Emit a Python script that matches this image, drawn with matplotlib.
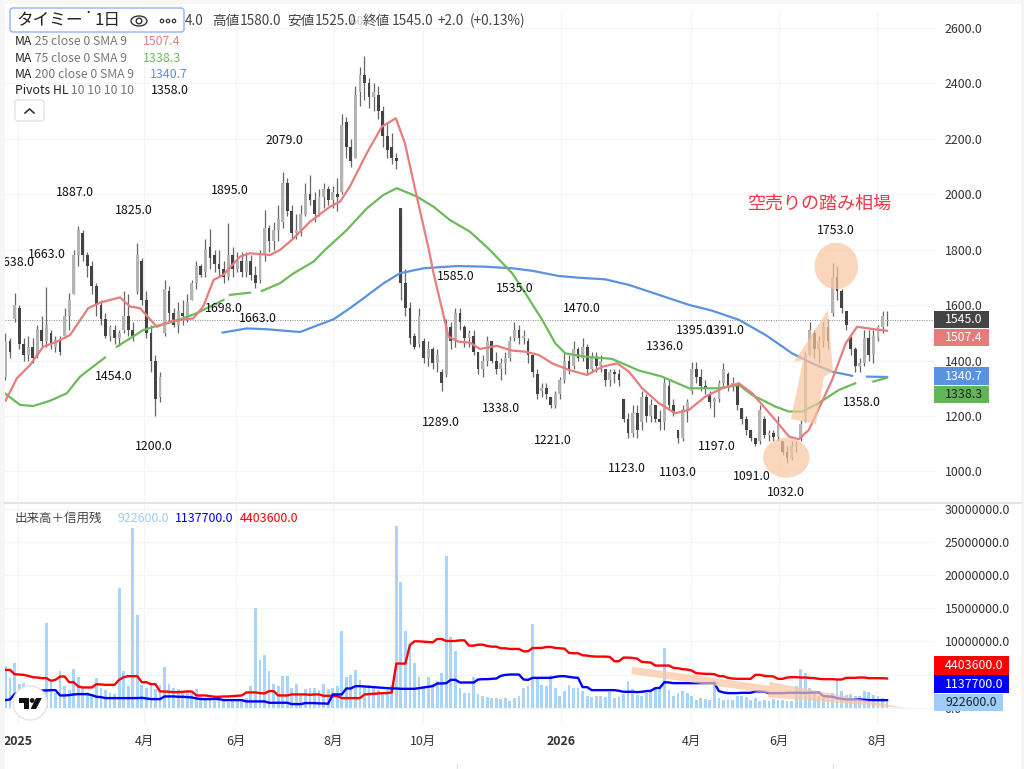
import matplotlib
matplotlib.use('Agg')
import matplotlib.pyplot as plt
from matplotlib.patches import Ellipse, Polygon, Rectangle, FancyBboxPatch, Circle
import numpy as np

plt.rcParams['font.family'] = ['Noto Sans CJK JP', 'DejaVu Sans']

# every candle covers two trading days
opens = [1340, 1470, 1550, 1590, 1460, 1420, 1450, 1420, 1510, 1470,
         1500, 1450, 1470, 1490, 1560, 1640, 1780, 1860, 1780, 1740,
         1670, 1600, 1550, 1490, 1510, 1480, 1510, 1560, 1510, 1650,
         1760, 1620, 1500, 1400, 1270, 1500, 1650, 1570, 1530, 1570,
         1560, 1620, 1680, 1740, 1720, 1810, 1780, 1750, 1730, 1700,
         1780, 1730, 1760, 1720, 1760, 1710, 1690, 1780, 1880, 1830,
         1870, 1900, 2040, 1940, 1860, 1870, 1930, 2000, 1980, 1930,
         1990, 2020, 1980, 2000, 2010, 2260, 2170, 2130, 2370, 2430,
         2400, 2350, 2360, 2300, 2210, 2170, 2130, 1950, 1680, 1590,
         1490, 1460, 1470, 1410, 1440, 1390, 1360, 1350, 1520, 1470,
         1570, 1520, 1480, 1490, 1430, 1370, 1400, 1470, 1400, 1370,
         1390, 1410, 1480, 1510, 1480, 1470, 1420, 1350, 1290, 1300,
         1270, 1240, 1280, 1330, 1400, 1380, 1440, 1410, 1450, 1370,
         1410, 1380, 1370, 1330, 1360, 1350, 1260, 1190, 1140, 1210,
         1180, 1270, 1200, 1240, 1190, 1180, 1310, 1240, 1150, 1120,
         1220, 1290, 1370, 1340, 1310, 1280, 1250, 1260, 1320, 1350,
         1310, 1310, 1230, 1190, 1150, 1120, 1110, 1190, 1130, 1140,
         1125, 1110, 1070, 1050, 1090, 1120, 1180, 1420, 1500, 1440,
         1470, 1520, 1570, 1700, 1650, 1580, 1480, 1440, 1380, 1390,
         1480, 1420, 1480, 1520, 1544]
highs = [1500, 1480, 1645, 1600, 1480, 1490, 1480, 1530, 1560, 1665,
         1510, 1490, 1490, 1590, 1645, 1800, 1887, 1870, 1790, 1760,
         1680, 1620, 1570, 1530, 1530, 1510, 1650, 1640, 1540, 1825,
         1770, 1650, 1530, 1420, 1360, 1690, 1670, 1590, 1610, 1620,
         1640, 1690, 1760, 1750, 1840, 1875, 1800, 1800, 1760, 1895,
         1810, 1790, 1790, 1790, 1780, 1740, 1800, 1943, 1890, 1900,
         1960, 2079, 2060, 1960, 1930, 1960, 2040, 2070, 2010, 2020,
         2040, 2030, 2030, 2060, 2290, 2280, 2200, 2390, 2460, 2500,
         2420, 2400, 2390, 2320, 2260, 2220, 2150, 1950, 1730, 1610,
         1500, 1590, 1480, 1470, 1450, 1440, 1370, 1550, 1540, 1590,
         1590, 1530, 1510, 1510, 1430, 1420, 1490, 1470, 1430, 1410,
         1430, 1490, 1540, 1530, 1510, 1480, 1420, 1370, 1320, 1320,
         1270, 1290, 1340, 1430, 1420, 1470, 1450, 1480, 1460, 1430,
         1430, 1420, 1370, 1370, 1370, 1370, 1260, 1210, 1240, 1240,
         1290, 1280, 1260, 1240, 1220, 1340, 1330, 1260, 1150, 1240,
         1260, 1395, 1395, 1370, 1330, 1290, 1270, 1330, 1391, 1360,
         1340, 1320, 1230, 1200, 1150, 1120, 1240, 1200, 1150, 1150,
         1200, 1110, 1090, 1110, 1110, 1185, 1430, 1540, 1510, 1490,
         1540, 1550, 1753, 1740, 1660, 1580, 1490, 1450, 1410, 1510,
         1510, 1510, 1530, 1580, 1580]
lows = [1330, 1410, 1540, 1440, 1400, 1400, 1390, 1410, 1450, 1450,
        1440, 1430, 1420, 1480, 1510, 1640, 1740, 1760, 1700, 1640,
        1560, 1530, 1480, 1470, 1460, 1454, 1500, 1490, 1470, 1640,
        1600, 1480, 1360, 1200, 1250, 1490, 1540, 1520, 1500, 1530,
        1540, 1620, 1660, 1700, 1700, 1730, 1720, 1700, 1680, 1690,
        1700, 1720, 1700, 1700, 1690, 1663, 1680, 1760, 1790, 1800,
        1830, 1880, 1920, 1840, 1840, 1850, 1920, 1960, 1900, 1920,
        1950, 1960, 1950, 1940, 2000, 2130, 2100, 2130, 2320, 2340,
        2310, 2300, 2270, 2170, 2130, 2110, 2090, 1620, 1560, 1460,
        1440, 1450, 1390, 1380, 1370, 1360, 1289, 1340, 1440, 1450,
        1510, 1450, 1450, 1420, 1350, 1340, 1380, 1390, 1350, 1330,
        1350, 1400, 1470, 1460, 1460, 1390, 1340, 1260, 1270, 1260,
        1229, 1230, 1260, 1320, 1350, 1370, 1400, 1400, 1350, 1360,
        1360, 1360, 1310, 1310, 1320, 1310, 1180, 1120, 1123, 1120,
        1150, 1180, 1180, 1180, 1150, 1150, 1220, 1200, 1103, 1110,
        1180, 1280, 1320, 1290, 1280, 1230, 1197, 1250, 1310, 1290,
        1290, 1220, 1170, 1130, 1110, 1091, 1100, 1120, 1110, 1110,
        1110, 1060, 1032, 1040, 1070, 1110, 1180, 1420, 1410, 1390,
        1450, 1440, 1560, 1620, 1570, 1510, 1420, 1360, 1358, 1380,
        1400, 1390, 1470, 1500, 1525]
closes = [1470, 1430, 1600, 1460, 1420, 1450, 1410, 1510, 1470, 1530,
          1460, 1475, 1430, 1560, 1620, 1780, 1870, 1780, 1740, 1670,
          1600, 1550, 1490, 1520, 1480, 1500, 1560, 1510, 1490, 1780,
          1620, 1500, 1400, 1260, 1340, 1660, 1570, 1530, 1580, 1560,
          1610, 1680, 1740, 1710, 1800, 1770, 1750, 1730, 1700, 1780,
          1730, 1760, 1720, 1760, 1710, 1680, 1780, 1880, 1830, 1870,
          1910, 2040, 1940, 1860, 1870, 1930, 2000, 1980, 1930, 1990,
          2020, 1980, 2010, 1990, 2250, 2170, 2120, 2360, 2430, 2400,
          2350, 2370, 2300, 2210, 2160, 2130, 2120, 1680, 1590, 1480,
          1450, 1560, 1410, 1440, 1390, 1420, 1320, 1520, 1470, 1570,
          1540, 1480, 1500, 1430, 1370, 1400, 1470, 1400, 1370, 1390,
          1410, 1470, 1510, 1480, 1490, 1420, 1360, 1280, 1300, 1280,
          1240, 1280, 1330, 1400, 1370, 1440, 1410, 1450, 1370, 1410,
          1380, 1400, 1330, 1360, 1350, 1330, 1190, 1140, 1210, 1150,
          1270, 1200, 1240, 1190, 1180, 1320, 1240, 1210, 1120, 1220,
          1250, 1370, 1340, 1310, 1300, 1250, 1260, 1320, 1370, 1310,
          1320, 1240, 1190, 1150, 1120, 1100, 1220, 1130, 1140, 1125,
          1180, 1070, 1050, 1090, 1100, 1170, 1420, 1510, 1440, 1470,
          1520, 1470, 1700, 1650, 1590, 1530, 1440, 1380, 1390, 1480,
          1420, 1490, 1520, 1560, 1545]

# volume and margin balances in millions of shares
volume = [6.3, 4.5, 6.7, 3.5, 3.7, 2.8, 2.5, 2.8, 2.4, 12.7,
          3.8, 2.2, 5.5, 3.2, 2.6, 5.9, 4.6, 3.0, 2.4, 2.0,
          4.5, 2.9, 2.6, 2.2, 2.0, 18.1, 5.5, 3.2, 27.0, 14.0,
          3.4, 3.0, 3.6, 2.8, 3.4, 6.2, 3.6, 3.0, 2.8, 2.4,
          2.6, 2.2, 2.8, 1.8, 1.4, 1.1, 1.0, 1.1, 1.0, 0.9,
          1.2, 1.2, 1.3, 1.5, 3.2, 15.0, 7.2, 8.0, 5.5, 3.6,
          3.2, 4.8, 4.8, 3.0, 3.5, 2.2, 2.8, 3.0, 3.0, 2.6,
          3.6, 2.8, 3.0, 3.2, 11.6, 4.6, 5.0, 5.7, 4.2, 3.4,
          3.4, 3.0, 2.6, 2.2, 2.6, 3.4, 27.3, 19.0, 11.5, 9.7,
          6.7, 4.6, 3.2, 4.6, 3.6, 4.0, 5.2, 22.9, 10.7, 8.6,
          3.0, 2.2, 2.2, 4.7, 2.0, 1.8, 1.6, 1.5, 1.4, 1.3,
          1.4, 1.0, 1.4, 1.8, 3.0, 3.3, 12.6, 4.5, 3.4, 3.2,
          5.0, 3.0, 1.8, 2.5, 3.4, 3.0, 3.0, 2.5, 1.7, 1.6,
          1.7, 1.7, 1.6, 2.4, 1.5, 1.6, 2.0, 4.0, 2.8, 1.9,
          1.7, 2.2, 2.4, 2.8, 3.0, 9.0, 2.6, 1.7, 2.2, 2.5,
          2.2, 1.8, 1.2, 1.4, 1.3, 1.2, 4.0, 1.4, 1.2, 1.3,
          1.2, 1.8, 1.7, 1.6, 1.2, 1.4, 1.0, 1.2, 1.0, 1.3,
          1.2, 1.2, 1.0, 1.0, 3.2, 5.9, 5.2, 3.0, 2.2, 1.8,
          1.5, 1.6, 2.2, 4.2, 2.5, 1.9, 2.0, 1.7, 1.8, 2.5,
          2.4, 1.9, 1.8, 1.5, 0.9226]
margin_buy = [5.7, 5.7, 5.05, 5.0, 4.95, 4.8, 4.6, 4.55, 4.45, 4.45,
              4.05, 4.2, 4.7, 4.7, 3.85, 3.85, 3.2, 3.05, 3.05, 3.05,
              3.55, 3.5, 3.45, 3.45, 3.45, 4.2, 4.6, 4.75, 4.75, 4.75,
              3.85, 3.85, 3.55, 3.55, 2.45, 2.45, 2.4, 2.35, 2.35, 2.4,
              2.45, 2.45, 1.85, 1.85, 1.85, 1.75, 1.65, 1.65, 1.7, 1.7,
              1.75, 1.8, 1.85, 2.3, 2.3, 2.3, 2.2, 2.15, 2.5, 2.5,
              1.85, 1.85, 1.85, 2.0, 2.0, 2.0, 2.0, 1.95, 2.0, 2.0,
              1.8, 1.8, 1.75, 1.75, 1.45, 1.45, 1.45, 1.45, 1.45, 2.0,
              2.05, 2.1, 2.15, 2.2, 2.2, 2.3, 6.65, 6.65, 6.65, 9.45,
              10.0, 10.0, 9.95, 9.9, 9.85, 10.35, 10.35, 10.05, 10.05, 10.05,
              10.15, 10.15, 9.35, 9.35, 9.5, 9.5, 9.3, 9.2, 9.2, 8.95,
              8.95, 8.85, 8.85, 8.85, 8.5, 8.5, 9.0, 9.0, 9.0, 9.15,
              9.15, 9.0, 8.95, 8.9, 8.25, 8.2, 8.2, 7.9, 7.85, 7.75,
              7.7, 7.7, 7.7, 7.65, 7.0, 7.0, 7.55, 7.55, 7.5, 7.4,
              6.9, 6.85, 6.8, 6.35, 6.35, 6.35, 6.35, 6.0, 5.95, 5.8,
              5.75, 5.6, 5.2, 5.15, 5.1, 5.1, 5.05, 4.75, 4.75, 4.5,
              4.4, 4.35, 4.35, 4.35, 4.35, 4.95, 4.95, 4.8, 4.75, 4.7,
              4.35, 4.35, 4.55, 4.6, 4.6, 4.55, 4.55, 4.5, 4.45, 4.35,
              4.3, 4.3, 4.3, 4.25, 4.25, 4.5, 4.5, 4.5, 4.55, 4.55,
              4.45, 4.45, 4.45, 4.45, 4.4036]
margin_sell = [1.15, 1.25, 2.05, 2.35, 2.4, 2.45, 2.5, 2.55, 2.6, 2.6,
               2.65, 2.65, 1.85, 1.85, 1.9, 2.0, 2.05, 2.05, 2.05, 1.9,
               1.65, 1.6, 1.45, 1.45, 1.45, 1.45, 1.45, 1.45, 1.45, 1.45,
               1.5, 1.4, 1.3, 1.3, 1.3, 1.7, 1.7, 1.7, 1.65, 1.65,
               1.6, 1.55, 1.4, 1.3, 1.3, 1.3, 1.3, 1.3, 1.15, 1.15,
               1.15, 1.15, 1.15, 0.95, 0.95, 0.95, 0.95, 0.95, 0.75, 0.75,
               0.75, 0.75, 0.75, 0.55, 0.55, 0.55, 0.7, 0.7, 0.7, 0.65,
               0.65, 0.6, 2.0, 2.0, 2.0, 2.9, 2.9, 3.25, 3.25, 3.2,
               3.15, 3.1, 3.05, 3.0, 2.95, 2.9, 2.9, 2.85, 2.85, 2.85,
               2.85, 2.95, 3.05, 3.15, 3.25, 3.65, 3.65, 3.7, 4.2, 4.2,
               3.8, 3.8, 3.8, 3.8, 4.25, 4.3, 4.3, 4.35, 4.4, 4.8,
               4.95, 5.0, 5.0, 5.0, 4.25, 4.2, 4.5, 4.5, 4.5, 4.5,
               4.5, 4.65, 4.75, 4.75, 4.65, 4.55, 4.5, 3.1, 3.1, 2.65,
               2.65, 2.65, 2.65, 2.65, 2.65, 2.55, 2.4, 2.4, 2.4, 2.35,
               2.4, 2.5, 2.55, 2.95, 3.0, 3.85, 3.8, 3.7, 3.7, 3.7,
               3.7, 3.7, 3.7, 3.7, 3.7, 3.7, 3.7, 2.5, 2.3, 2.2,
               2.2, 2.2, 2.25, 2.25, 2.25, 2.45, 2.45, 2.4, 2.2, 2.2,
               2.2, 2.2, 2.25, 2.25, 2.25, 2.25, 2.25, 2.25, 2.3, 2.3,
               1.75, 1.7, 1.65, 1.45, 1.35, 1.25, 1.25, 1.25, 1.25, 1.2,
               1.15, 1.15, 1.15, 1.15, 1.1377]

# moving averages, x in candle numbers, nan where the line has a hole
ma25_x = [0, 2.5, 5.4, 8.3, 11.3, 14.2, 18.2, 20.8, 25.2, 27.4, 29.6, 33.3, 36.9, 41.3, 43.5, 45.8, 47.9,
          51.6, 53.8, 58.2, 60.4, 63.4, 67, 71.4, 73.6, 75.8, 79.5, 82.8, 85.9, 87.9, 90.5, 93.1, 94.2,
          97.5, 99.7, 102.2, 104.4, 108.1, 111.5, 114.4, 117.4, 120.3, 124, 128, 131.3, 134.6, 137.2,
          140.1, 143.8, 147.4, 150.4, 154, 157.7, 161.4, 164.3, 169.4, 172.4, 174.6, 176.8, 179.7,
          181.9, 184.9, 187.4, 190.7, 194]
ma25_y = [1255, 1336, 1384, 1450, 1468, 1492, 1589, 1609, 1628, 1595, 1589, 1522, 1544, 1552, 1595, 1691, 1709,
          1775, 1787, 1781, 1799, 1841, 1901, 1955, 1973, 2028, 2148, 2244, 2274, 2184, 1992, 1805, 1715,
          1486, 1468, 1465, 1442, 1453, 1436, 1432, 1420, 1390, 1366, 1348, 1378, 1390, 1360,
          1300, 1246, 1210, 1222, 1270, 1300, 1318, 1282, 1186, 1126, 1116, 1150, 1252,
          1330, 1462, 1522, 1514, 1507.4]
ma75_x = [0, 3.2, 6.1, 9.8, 13.5, 16.4, 21.9, 22, 24.5, 30.3, 33.3, 37.7, 42.1, 48, 48.5, 49.4, 53.8, 55, 56.4,
          60.4, 63.4, 67.8, 70.3, 75.1, 79.5, 83.2, 86.1, 90.5, 94.2, 97.8, 102.2, 106.6, 111.5, 114.4,
          118.1, 121, 123.2, 127.6, 133.5, 139.4, 144.5, 150.4, 157, 161.4, 164.3, 169.4, 172.4, 175.3,
          178.9, 183.4, 187, 189, 191, 194]
ma75_y = [1280, 1240, 1236, 1255, 1282, 1342, 1411, np.nan, 1450, 1510, 1525, 1544, 1571, 1619, np.nan, 1637, 1645,
          np.nan, 1651, 1679, 1715, 1757, 1799, 1871, 1949, 1998, 2022, 1992, 1955, 1907, 1865, 1799, 1715, 1643,
          1547, 1462, 1426, 1414, 1406, 1364, 1342, 1300, 1300, 1312, 1276, 1234, 1216, 1216,
          1246, 1294, 1318, np.nan, 1324, 1338.3]
ma200_x = [47.8, 53.1, 57.5, 64.8, 72.2, 75.8, 78.8, 83.2, 86.8, 92, 99.3, 105.2, 111.5, 115.9, 121.8, 126.1,
           132, 137.2, 143.8, 150.4, 155.5, 161.4, 167.3, 173.1, 177.5, 181.9, 186.3, 188, 189.6, 194]
ma200_y = [1501, 1516, 1513, 1503, 1549, 1589, 1625, 1679, 1715, 1733, 1741, 1739, 1733, 1724, 1705, 1699,
           1693, 1673, 1637, 1601, 1580, 1547, 1492, 1426, 1390, 1360, 1345, np.nan, 1342, 1340.7]

price_ticks = [1000, 1200, 1400, 1600, 1800, 2000, 2200, 2400, 2600]
volume_ticks = [0, 5000000, 10000000, 15000000, 20000000, 25000000, 30000000]
date_ticks = [2.7, 30.5, 50.7, 72, 91.9, 122.2, 150.9, 170.2, 191.8]
date_labels = ['2025', '4月', '6月', '8月', '10月', '2026', '4月', '6月', '8月']
last_close = 1545.0

pivot_labels = ['1638.0', '1663.0', '1887.0', '1825.0', '1895.0', '2079.0', '1454.0', '1698.0', '1663.0',
                '1200.0', '1585.0', '1535.0', '1470.0', '1289.0', '1338.0', '1221.0', '1123.0', '1103.0',
                '1197.0', '1091.0', '1032.0', '1336.0', '1395.0', '1391.0', '1753.0', '1358.0']
# where the labels sit on the image, in pixels
pivot_px = [(16, 262), (47, 255), (75, 192), (134, 210), (230, 190), (284, 140), (114, 376), (224, 309), (258, 318),
            (154, 447), (456, 276), (515, 289), (582, 308), (441, 422), (501, 408), (553, 440), (627, 468), (678, 473),
            (717, 447), (752, 477), (786, 493), (665, 346), (695, 330), (726, 331), (836, 230), (862, 403)]

W, H = 1024, 769
TEXT = '#333333'
GRID = '#f4f5f7'
PEACH = '#f9c6a0'


def pane(left, top, right, bottom):
    """axes placed by image pixels"""
    return fig.add_axes([left / W, 1 - bottom / H, (right - left) / W, (bottom - top) / H])


def tag(y0, y1, x1, text, bg, fg):
    over.add_patch(Rectangle((934, y0), x1 - 934, y1 - y0, fc=bg, ec='none', zorder=6))
    over.text(945, (y0 + y1) / 2, text, color=fg, fontsize=8.9, va='center', ha='left', zorder=7)


fig = plt.figure(figsize=(W / 100, H / 100), dpi=100)

x = np.arange(len(closes))
o, h, l, c = np.array(opens), np.array(highs), np.array(lows), np.array(closes)

ax = pane(5, 10, 935, 503)
ax.vlines(x, l, h, color='#666666', lw=0.9, zorder=2)
up = c >= o
ax.bar(x[up], (c - o)[up], bottom=o[up], width=0.62, color='#b4b4b4', zorder=3)
ax.bar(x[~up], (o - c)[~up], bottom=c[~up], width=0.62, color='#444444', zorder=3)
ax.plot(ma200_x, ma200_y, color='#5b92e0', lw=1.6, zorder=4)
ax.plot(ma75_x, ma75_y, color='#6cbb5a', lw=1.6, zorder=4)
ax.plot(ma25_x, ma25_y, color='#e87d7d', lw=1.6, zorder=4)
ax.axhline(last_close, color='#888888', lw=0.7, ls=(0, (1, 1.5)), zorder=1)
ax.set_xlim(-0.11, 204.55)
ax.set_ylim(886, 2665)
ax.set_yticks(price_ticks)
ax.set_yticklabels(['%.1f' % v for v in price_ticks])
ax.set_xticks(date_ticks)
ax.tick_params(axis='x', length=0, labelbottom=False)
ax.yaxis.tick_right()
ax.tick_params(axis='y', length=0, pad=7, labelsize=8.9, labelcolor=TEXT)
ax.grid(True, color=GRID, lw=1, zorder=0)
ax.set_axisbelow(True)

ax2 = pane(5, 503, 935, 725)
ax2.bar(x, np.array(volume) * 1e6, width=0.62, color='#a9d5fb', zorder=2)
ax2.plot(x, np.array(margin_buy) * 1e6, color='#ff0000', lw=1.7, zorder=4)
ax2.plot(x, np.array(margin_sell) * 1e6, color='#0000ff', lw=1.7, zorder=4)
ax2.set_xlim(-0.11, 204.55)
ax2.set_ylim(-2.6e6, 30.83e6)
ax2.set_yticks(volume_ticks)
ax2.set_yticklabels(['%.1f' % v for v in volume_ticks])
ax2.yaxis.tick_right()
ax2.tick_params(axis='y', length=0, pad=7, labelsize=8.9, labelcolor=TEXT)
ax2.set_xticks(date_ticks)
ax2.set_xticklabels(date_labels)
ax2.tick_params(axis='x', length=0, pad=7, labelsize=8.9, labelcolor=TEXT)
for lab in ax2.get_xticklabels():
    if lab.get_text().startswith('20'):
        lab.set_fontweight('bold')
ax2.grid(True, color=GRID, lw=1, zorder=0)
ax2.set_axisbelow(True)

for a in (ax, ax2):
    for s in a.spines.values():
        s.set_visible(False)

# everything else is drawn on a see-through layer in image pixels
over = fig.add_axes([0, 0, 1, 1], zorder=5)
over.set_xlim(0, W)
over.set_ylim(H, 0)
over.axis('off')
over.patch.set_alpha(0)

# hand drawn highlights
over.add_patch(Ellipse((836.3, 266), 43.5, 46.5, fc=PEACH, ec='none', alpha=0.7, zorder=1))
over.add_patch(Ellipse((786.3, 457.7), 46.5, 40, fc=PEACH, ec='none', alpha=0.7, zorder=1))
over.add_patch(Polygon([(791, 419), (816, 424), (824, 377), (833, 372), (828, 310), (794, 362), (803, 360)],
                       fc=PEACH, ec='none', alpha=0.7, zorder=1))
over.add_patch(Polygon([(632.3, 666.7), (769.3, 685.7), (769.3, 681.7), (906.7, 708.3), (767.7, 697.3),
                        (768.3, 693.3), (631.3, 674)], fc=PEACH, ec='none', alpha=0.7, zorder=1))
over.text(819.5, 204, '空売りの踏み相場', color='#f23645', fontsize=13, ha='center', va='center', zorder=3)

for lab, (px, py) in zip(pivot_labels, pivot_px):
    over.text(px, py, lab, color='#111111', fontsize=8.9, ha='center', va='center', zorder=3)

# window edges
over.add_patch(Rectangle((0, 0), 5, H, fc='#f6f6f6', ec='none', zorder=4))
over.add_patch(Rectangle((0, 0), W, 4, fc='#f6f6f6', ec='none', zorder=4))
over.add_patch(Rectangle((1021, 0), 3, H, fc='#f4f4f4', ec='none', zorder=4))
over.plot([5, 1021], [503, 503], color='#e2e3ea', lw=1.5, zorder=4)
over.plot([457, 457], [764, 769], color='#e2e3ea', lw=1, zorder=4)
over.plot([833, 833], [764, 769], color='#e2e3ea', lw=1, zorder=4)
over.text(484, 775, '替', color='#555555', fontsize=9, ha='center', va='center', clip_on=True, zorder=4)

# price scale tags
tag(311, 328, 989, '1545.0', '#444444', '#ffffff')
tag(328.5, 346, 989, '1507.4', '#e57b7b', '#ffffff')
tag(367, 385, 989, '1340.7', '#5b92e0', '#ffffff')
tag(385.5, 403, 989, '1338.3', '#63b655', '#222222')
tag(656, 675, 1009, '4403600.0', '#ff0000', '#ffffff')
tag(675, 693, 1009, '1137700.0', '#0000ff', '#ffffff')
tag(693.5, 711, 1003, '922600.0', '#9fcdfb', '#222222')

# symbol box
over.add_patch(FancyBboxPatch((10, 8), 174, 24, boxstyle='round,pad=0,rounding_size=3', fc='white', ec='#8ab4f8',
                              lw=1, zorder=4))
over.text(16, 21, 'タイミー', color='#222222', fontsize=12, va='center', zorder=5)
over.add_patch(Circle((88.7, 12), 1.1, fc='#222222', ec='none', zorder=5))
over.text(95, 21, '1日', color='#222222', fontsize=12, va='center', zorder=5)
over.add_patch(Ellipse((139, 21), 16, 10, fc='none', ec='#333333', lw=1, zorder=5))
over.add_patch(Circle((139, 21), 2.8, fc='none', ec='#333333', lw=1, zorder=5))
for dx in (162, 168, 174):
    over.add_patch(Circle((dx, 21), 1.7, fc='none', ec='#333333', lw=0.9, zorder=5))

# header values, the ohlc line runs behind the symbol box
head = [(185, '4.0'), (212, '高値'), (240, '1580.0'), (287, '安値'), (315, '1525.0'), (363, '終値'), (392, '1545.0'),
        (438, '+2.0'), (470, '(+0.13%)')]
over.text(347, 21.5, '.60', color='#c8c8c8', fontsize=8.5, va='center', zorder=3)
for hx, ht in head:
    over.text(hx, 21, ht, color='#444444', fontsize=9.8, va='center', zorder=3)

rows = [(41.7, 'MA', ' 25 close 0 SMA 9', 143, '1507.4', '#e87d7d'),
        (58, 'MA', ' 75 close 0 SMA 9', 143, '1338.3', '#6cbb5a'),
        (74, 'MA', ' 200 close 0 SMA 9', 150, '1340.7', '#5b92e0'),
        (90, 'Pivots HL', ' 10 10 10 10', 151, '1358.0', '#111111')]
for ry, name, args, vx, val, col in rows:
    t = over.text(15, ry, name, color='#222222', fontsize=8.8, va='center', zorder=3)
    nx = t.get_window_extent(fig.canvas.get_renderer()).x1
    over.text(nx, ry, args, color='#777777', fontsize=8.8, va='center', zorder=3)
    over.text(vx, ry, val, color=col, fontsize=8.9, va='center', zorder=3)
over.add_patch(FancyBboxPatch((15, 100), 29, 21, boxstyle='round,pad=0,rounding_size=3', fc='white', ec='#e0e3eb',
                              lw=1, zorder=3))
over.plot([25, 29.5, 34], [113, 109, 113], color='#333333', lw=1.2, zorder=4)

# volume legend
over.text(15, 518, '出来高＋信用残', color='#444444', fontsize=9, va='center', zorder=3)
over.text(118, 518, '922600.0', color='#9fcdfb', fontsize=8.9, va='center', zorder=3)
over.text(175, 518, '1137700.0', color='#0000ff', fontsize=8.9, va='center', zorder=3)
over.text(240, 518, '4403600.0', color='#ff0000', fontsize=8.9, va='center', zorder=3)

# tradingview badge
over.add_patch(Circle((30, 703), 17, fc='white', ec='#e4e5ea', lw=1, zorder=4))
over.add_patch(Polygon([(19.3, 698), (29, 698), (29, 709), (24, 709), (24, 703), (19.3, 703)], fc='#111111', ec='none', zorder=5))
over.add_patch(Circle((32.2, 700.5), 2.4, fc='#111111', ec='none', zorder=5))
over.add_patch(Polygon([(36, 698), (41.8, 698), (36, 709), (30.6, 709)], fc='#111111', ec='none', zorder=5))

fig.savefig('out.png', dpi=100)
